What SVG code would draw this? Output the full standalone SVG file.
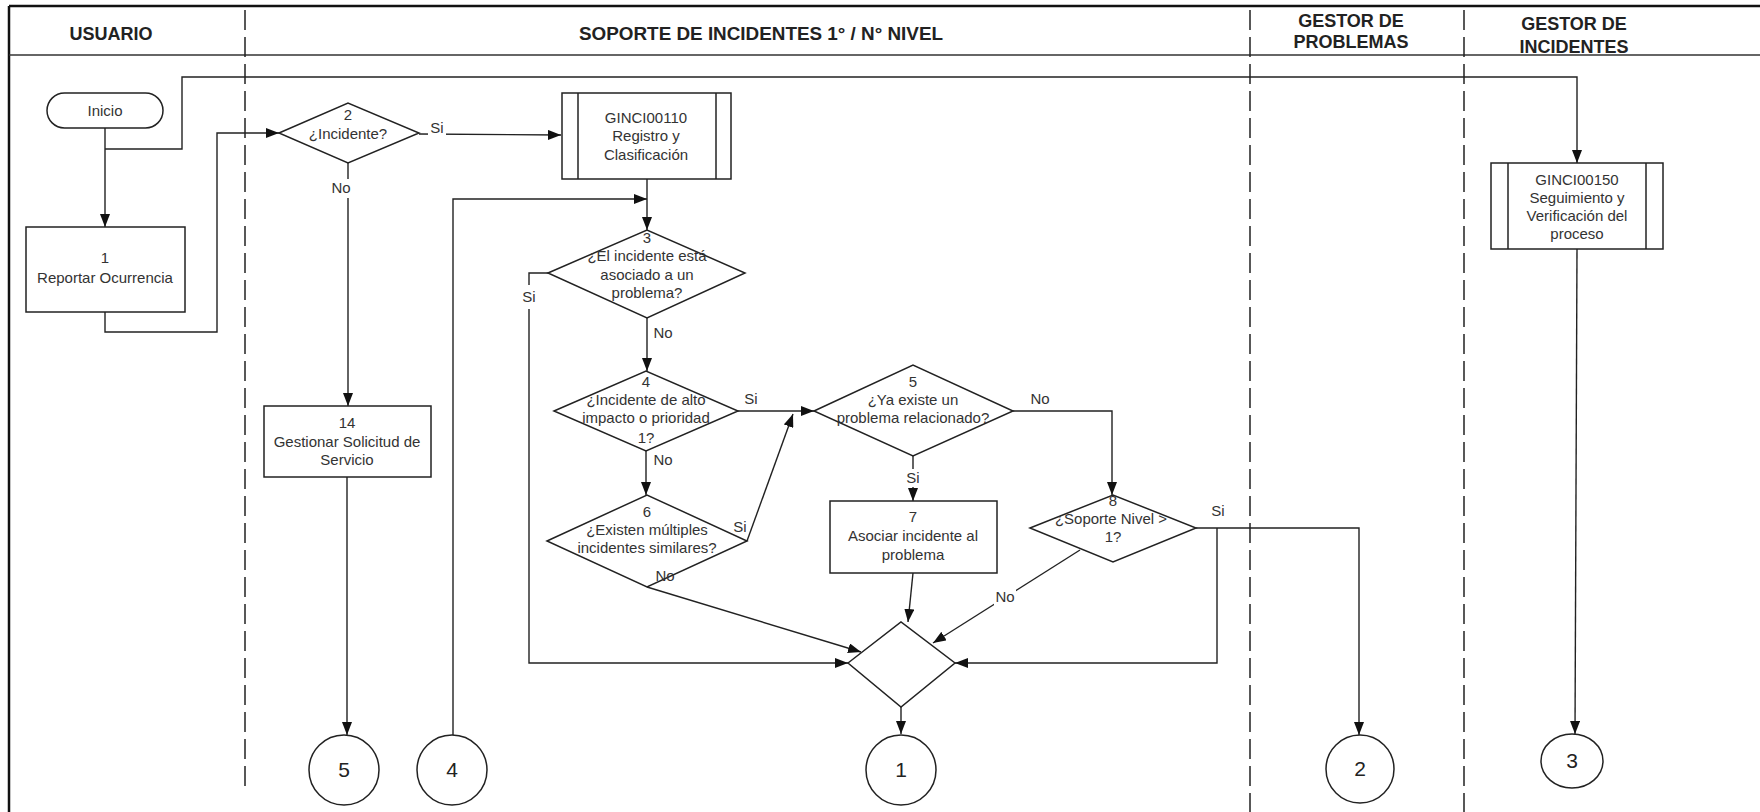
<svg xmlns="http://www.w3.org/2000/svg" width="1760" height="812" viewBox="0 0 1760 812">
  <style>
    .frame { fill: none; stroke: #111; stroke-width: 2.5; }
    .hdr-line { fill: none; stroke: #333; stroke-width: 1.5; }
    .lane { fill: none; stroke: #222; stroke-width: 1.5; stroke-dasharray: 20 7; }
    .shape { fill: #fff; stroke: #222; stroke-width: 1.5; }
    .conn { fill: none; stroke: #222; stroke-width: 1.4; }
    .arrow { marker-end: url(#arrowhead); }
    .hdr { font-family: "Liberation Sans", Arial, sans-serif; font-size: 18px; font-weight: bold; fill: #222; text-anchor: middle; }
    .txt { font-family: "Liberation Sans", Arial, sans-serif; font-size: 15px; fill: #333; text-anchor: middle; }
    .lbl { font-family: "Liberation Sans", Arial, sans-serif; font-size: 15px; fill: #333; text-anchor: middle; }
    .num { font-family: "Liberation Sans", Arial, sans-serif; font-size: 21px; fill: #222; text-anchor: middle; }
    .bg { fill: #fff; }
  </style>
  <defs>
    <marker id="arrowhead" markerUnits="userSpaceOnUse" markerWidth="13" markerHeight="10" refX="13" refY="5" orient="auto">
      <path d="M0,0 L13,5 L0,10 Z" fill="#111"/>
    </marker>
  </defs>

  <rect width="1760" height="812" fill="#fff"/>

  <!-- frame, lane separators and lane titles -->
  <g id="frame">
    <line class="frame" x1="9" y1="6" x2="1760" y2="6"/>
    <line class="frame" x1="9" y1="6" x2="9" y2="812"/>
    <line class="hdr-line" x1="9" y1="55" x2="1760" y2="55"/>
    <line class="lane" x1="245" y1="10" x2="245" y2="790"/>
    <line class="lane" x1="1250" y1="10" x2="1250" y2="812"/>
    <line class="lane" x1="1464" y1="10" x2="1464" y2="812"/>
    <text class="hdr" x="111" y="40">USUARIO</text>
    <text class="hdr" x="761" y="40" textLength="364" lengthAdjust="spacingAndGlyphs">SOPORTE DE INCIDENTES 1° / N° NIVEL</text>
    <text class="hdr" x="1351" y="27">GESTOR DE</text>
    <text class="hdr" x="1351" y="48">PROBLEMAS</text>
    <text class="hdr" x="1574" y="30">GESTOR DE</text>
    <text class="hdr" x="1574" y="53">INCIDENTES</text>
  </g>

  <!-- connectors -->
  <g id="connectors">
    <path class="conn arrow" d="M105,128 V227"/>
    <path class="conn arrow" d="M105,149 H182 V77 H1577 V163"/>
    <path class="conn arrow" d="M105,312 V332 H217 V133 H279"/>
    <path class="conn arrow" d="M419,134 L561,135"/>
    <path class="conn arrow" d="M348,163 V406"/>
    <path class="conn arrow" d="M347,477 V735"/>
    <path class="conn arrow" d="M453,735 V199 H647"/>
    <path class="conn arrow" d="M647,179 V230"/>
    <path class="conn arrow" d="M548,273 H529 V663 H848"/>
    <path class="conn arrow" d="M647,318 V371"/>
    <path class="conn arrow" d="M738,411 H814"/>
    <path class="conn arrow" d="M646,451 V495"/>
    <path class="conn arrow" d="M747,541 L793,414"/>
    <path class="conn arrow" d="M647,587 L861,652"/>
    <path class="conn arrow" d="M913,456 V501"/>
    <path class="conn arrow" d="M1013,411 H1112 V495"/>
    <path class="conn arrow" d="M913,573 L908,622"/>
    <path class="conn arrow" d="M1080,550 L933,643"/>
    <path class="conn arrow" d="M1196,528 H1359 V735"/>
    <path class="conn arrow" d="M1217,528 V663 H955"/>
    <path class="conn arrow" d="M901,707 V734"/>
    <path class="conn arrow" d="M1577,249 L1575,734"/>
  </g>

  <!-- nodes -->
  <g id="inicio">
    <rect class="shape" x="47" y="93" width="116" height="35" rx="17.5"/>
    <text class="txt" x="105" y="116">Inicio</text>
  </g>

  <g id="paso1">
    <rect class="shape" x="26" y="227" width="159" height="85"/>
    <text class="txt" x="105" y="263">1</text>
    <text class="txt" x="105" y="283">Reportar Ocurrencia</text>
  </g>

  <g id="decision2">
    <polygon class="shape" points="279,133 348,103 419,133 348,163"/>
    <text class="txt" x="348" y="120">2</text>
    <text class="txt" x="348" y="139">¿Incidente?</text>
  </g>

  <g id="ginci00110">
    <rect class="shape" x="562" y="93" width="169" height="86"/>
    <line class="shape" x1="578" y1="93" x2="578" y2="179"/>
    <line class="shape" x1="716" y1="93" x2="716" y2="179"/>
    <text class="txt" x="646" y="123">GINCI00110</text>
    <text class="txt" x="646" y="141">Registro y</text>
    <text class="txt" x="646" y="160">Clasificación</text>
  </g>

  <g id="decision3">
    <polygon class="shape" points="548,273 647,230 745,273 647,318"/>
    <text class="txt" x="647" y="243">3</text>
    <text class="txt" x="647" y="261">¿El incidente está</text>
    <text class="txt" x="647" y="280">asociado a un</text>
    <text class="txt" x="647" y="298">problema?</text>
  </g>

  <g id="decision4">
    <polygon class="shape" points="554,411 646,371 738,411 646,451"/>
    <text class="txt" x="646" y="387">4</text>
    <text class="txt" x="646" y="405">¿Incidente de alto</text>
    <text class="txt" x="646" y="423">impacto o prioridad</text>
    <text class="txt" x="646" y="443">1?</text>
  </g>

  <g id="decision5">
    <polygon class="shape" points="814,411 913,365 1013,411 913,456"/>
    <text class="txt" x="913" y="387">5</text>
    <text class="txt" x="913" y="405">¿Ya existe un</text>
    <text class="txt" x="913" y="423">problema relacionado?</text>
  </g>

  <g id="decision6">
    <polygon class="shape" points="547,541 647,495 747,541 647,587"/>
    <text class="txt" x="647" y="517">6</text>
    <text class="txt" x="647" y="535">¿Existen múltiples</text>
    <text class="txt" x="647" y="553">incidentes similares?</text>
  </g>

  <g id="paso7">
    <rect class="shape" x="830" y="501" width="167" height="72"/>
    <text class="txt" x="913" y="522">7</text>
    <text class="txt" x="913" y="541">Asociar incidente al</text>
    <text class="txt" x="913" y="560">problema</text>
  </g>

  <g id="decision8">
    <polygon class="shape" points="1030,528 1113,495 1196,528 1113,562"/>
    <text class="txt" x="1113" y="506">8</text>
    <text class="txt" x="1111" y="524">¿Soporte Nivel &gt;</text>
    <text class="txt" x="1113" y="542">1?</text>
  </g>

  <g id="union">
    <polygon class="shape" points="848,663 901,622 955,663 901,707"/>
  </g>

  <g id="paso14">
    <rect class="shape" x="264" y="406" width="167" height="71"/>
    <text class="txt" x="347" y="428">14</text>
    <text class="txt" x="347" y="447">Gestionar Solicitud de</text>
    <text class="txt" x="347" y="465">Servicio</text>
  </g>

  <g id="ginci00150">
    <rect class="shape" x="1491" y="163" width="172" height="86"/>
    <line class="shape" x1="1508" y1="163" x2="1508" y2="249"/>
    <line class="shape" x1="1646" y1="163" x2="1646" y2="249"/>
    <text class="txt" x="1577" y="185">GINCI00150</text>
    <text class="txt" x="1577" y="203">Seguimiento y</text>
    <text class="txt" x="1577" y="221">Verificación del</text>
    <text class="txt" x="1577" y="239">proceso</text>
  </g>

  <g id="conector5">
    <circle class="shape" cx="344" cy="770" r="35"/>
    <text class="num" x="344" y="777">5</text>
  </g>
  <g id="conector4">
    <circle class="shape" cx="452" cy="770" r="35"/>
    <text class="num" x="452" y="777">4</text>
  </g>
  <g id="conector1">
    <circle class="shape" cx="901" cy="770" r="35"/>
    <text class="num" x="901" y="777">1</text>
  </g>
  <g id="conector2">
    <circle class="shape" cx="1360" cy="769" r="34"/>
    <text class="num" x="1360" y="776">2</text>
  </g>
  <g id="conector3">
    <ellipse class="shape" cx="1572" cy="761" rx="31" ry="27"/>
    <text class="num" x="1572" y="768">3</text>
  </g>

  <!-- branch labels, drawn over lines and shapes -->
  <g id="branch-labels">
    <rect class="bg" x="428" y="120" width="18" height="20"/>
    <text class="lbl" x="437" y="133">Si</text>
    <rect class="bg" x="330" y="179" width="22" height="19"/>
    <text class="lbl" x="341" y="193">No</text>
    <rect class="bg" x="520" y="285" width="18" height="24"/>
    <text class="lbl" x="529" y="302">Si</text>
    <text class="lbl" x="663" y="338">No</text>
    <text class="lbl" x="751" y="404">Si</text>
    <text class="lbl" x="663" y="465">No</text>
    <text class="lbl" x="740" y="532">Si</text>
    <text class="lbl" x="665" y="581">No</text>
    <rect class="bg" x="904" y="469" width="18" height="18"/>
    <text class="lbl" x="913" y="483">Si</text>
    <text class="lbl" x="1040" y="404">No</text>
    <rect class="bg" x="994" y="588" width="22" height="18"/>
    <text class="lbl" x="1005" y="602">No</text>
    <text class="lbl" x="1218" y="516">Si</text>
  </g>
</svg>
